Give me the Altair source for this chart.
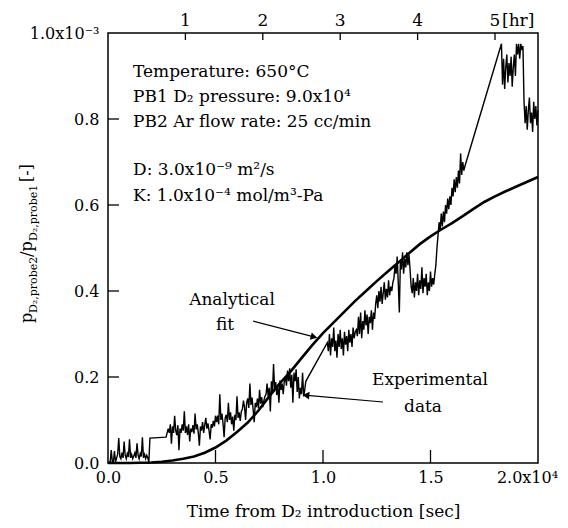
import altair as alt
import pandas as pd

FONT = "DejaVu Serif"
STEP = 0.005  # sampling interval in units of 1e4 s (50 s)

# ---- experimental data (x in 1e4 s, y in 1e-3), blocks of samples ----
blk_a_t0 = 0.00
blk_a = [0.0, 0.002, 0.001, 0.03, 0.004, 0.002, 0.028, 0.003,
         0.012, 0.02, 0.058, 0.015, 0.01, 0.024, 0.012, 0.05, 0.018, 0.01, 0.022, 0.014,
         0.055, 0.012, 0.02, 0.01, 0.016, 0.024, 0.012, 0.046, 0.018, 0.01, 0.022, 0.015,
         0.06, 0.012, 0.02, 0.01, 0.018, 0.012, 0.002]
bridge_x = [0.195, 0.27]
bridge_y = [0.058, 0.060]
blk_b_t0 = 0.28
blk_b = [0.08, 0.07, 0.09, 0.045, 0.085, 0.07, 0.11, 0.075, 0.065, 0.088,
         0.03, 0.08, 0.07, 0.09, 0.075, 0.12, 0.07, 0.085, 0.065, 0.09,
         0.05, 0.08, 0.072, 0.088, 0.068, 0.115, 0.078, 0.09, 0.07, 0.04,
         0.085, 0.075, 0.095, 0.07, 0.088, 0.105, 0.08, 0.092, 0.075, 0.055,
         0.09, 0.082, 0.098, 0.085, 0.11]
blk_c_t0 = 0.505
blk_c = [0.095, 0.11, 0.09, 0.16, 0.1, 0.115, 0.092, 0.06, 0.105, 0.112, 0.095, 0.14,
         0.1, 0.118, 0.09, 0.108, 0.075, 0.112, 0.1, 0.155, 0.105, 0.118, 0.098, 0.12]
blk_d_t0 = 0.625
blk_d = [0.125, 0.145, 0.13, 0.1, 0.14, 0.15, 0.128, 0.185, 0.135, 0.152, 0.125,
         0.095, 0.14, 0.13, 0.15, 0.127, 0.17, 0.138, 0.153, 0.13, 0.145, 0.155]
blk_e_t0 = 0.735
blk_e = [0.16, 0.185, 0.155, 0.175, 0.12, 0.19, 0.165, 0.23, 0.17,
         0.188, 0.158, 0.18, 0.14, 0.192, 0.17, 0.185, 0.16, 0.19]
blk_f_t0 = 0.825
blk_f = [0.2, 0.18, 0.215, 0.19, 0.22, 0.175, 0.205, 0.14, 0.21, 0.19,
         0.218, 0.165, 0.2, 0.15, 0.175, 0.16, 0.21, 0.155, 0.17, 0.19]
blk_g_t0 = 1.02
blk_g = [0.28, 0.26, 0.3, 0.25, 0.29, 0.27, 0.315, 0.26, 0.285, 0.245,
         0.3, 0.27, 0.31, 0.265, 0.29, 0.25, 0.305, 0.275, 0.295, 0.26,
         0.31, 0.28, 0.3, 0.27, 0.315, 0.29, 0.305]
blk_h_t0 = 1.155
blk_h = [0.31, 0.295, 0.34, 0.3, 0.35, 0.29, 0.33, 0.31, 0.355,
         0.32, 0.345, 0.3, 0.34, 0.325, 0.355, 0.31, 0.35, 0.335]
blk_i_t0 = 1.245
blk_i = [0.37, 0.39, 0.36, 0.4, 0.375, 0.41, 0.37, 0.395, 0.42,
         0.38, 0.405, 0.385, 0.425, 0.39, 0.41, 0.4, 0.42]
blk_j_t0 = 1.33
blk_j = [0.43, 0.46, 0.44, 0.48, 0.42, 0.35, 0.47, 0.45,
         0.49, 0.44, 0.475, 0.455, 0.49, 0.46, 0.485]
blk_k_t0 = 1.405
blk_k = [0.45, 0.41, 0.395, 0.43, 0.385, 0.42, 0.4, 0.44, 0.39, 0.425, 0.405, 0.455,
         0.395, 0.43, 0.41, 0.44, 0.39, 0.42, 0.4, 0.445, 0.41, 0.43, 0.415, 0.44]
blk_l_t0 = 1.525
blk_l = [0.46, 0.5, 0.53, 0.56, 0.54, 0.58, 0.55, 0.585, 0.56, 0.6, 0.58, 0.615, 0.59, 0.62,
         0.6, 0.64, 0.62, 0.66, 0.63, 0.665, 0.64, 0.68, 0.65, 0.72, 0.67, 0.7, 0.68, 0.69]
blk_m_t0 = 1.83
blk_m = [0.975, 0.88, 0.94, 0.87, 0.92, 0.95, 0.885, 0.93, 0.9, 0.945, 0.875,
         0.92, 0.95, 0.9, 0.975, 0.95, 0.975, 0.94, 0.975, 0.96, 0.97]
blk_n_t0 = 1.935
blk_n = [0.84, 0.79, 0.83, 0.775, 0.82, 0.85, 0.79, 0.815, 0.77, 0.84, 0.8, 0.83, 0.785, 0.82]

# ---- analytical fit ----
fit_x = [0.0, 0.10, 0.20, 0.25, 0.30, 0.35, 0.40, 0.45, 0.50, 0.55, 0.60, 0.65, 0.70,
         0.75, 0.80, 0.85, 0.90, 0.95, 1.00, 1.05, 1.10, 1.15, 1.20, 1.25, 1.30, 1.35,
         1.40, 1.45, 1.50, 1.55, 1.60, 1.65, 1.70, 1.75, 1.80, 1.85, 1.90, 1.95, 2.00]
fit_y = [0.0, 0.0, 0.001, 0.003, 0.006, 0.010, 0.015, 0.024, 0.036, 0.052, 0.072, 0.094, 0.122,
         0.155, 0.186, 0.213, 0.244, 0.274, 0.302, 0.327, 0.352, 0.377, 0.400, 0.423, 0.445, 0.466,
         0.488, 0.509, 0.527, 0.543, 0.558, 0.574, 0.591, 0.607, 0.620, 0.632, 0.643, 0.654, 0.665]

x_ticks = [0.5, 1.0, 1.5]
y_ticks = [0.2, 0.4, 0.6, 0.8]
hours = [1, 2, 3, 4, 5]
hour_labels = ["1", "2", "3", "4", "5"]

rows = []
def add_block(t0, vals):
    for i, v in enumerate(vals):
        rows.append((round(t0 + i * STEP, 4), v))

add_block(blk_a_t0, blk_a)
for bx, by in zip(bridge_x, bridge_y):
    rows.append((bx, by))
for t0, vals in [(blk_b_t0, blk_b), (blk_c_t0, blk_c), (blk_d_t0, blk_d), (blk_e_t0, blk_e),
                 (blk_f_t0, blk_f), (blk_g_t0, blk_g), (blk_h_t0, blk_h), (blk_i_t0, blk_i),
                 (blk_j_t0, blk_j), (blk_k_t0, blk_k), (blk_l_t0, blk_l), (blk_m_t0, blk_m),
                 (blk_n_t0, blk_n)]:
    add_block(t0, vals)
exp_df = pd.DataFrame(rows, columns=["x", "y"])
exp_df["order"] = range(len(exp_df))
fit_df = pd.DataFrame({"x": fit_x, "y": fit_y})
hour_df = pd.DataFrame({"x": [h * 0.36 for h in hours], "label": hour_labels})

LAB = 16
xs = alt.Scale(domain=[0, 2], nice=False, zero=False)
ys = alt.Scale(domain=[0, 1], nice=False, zero=False)
xaxis = alt.Axis(values=[0, 0.5, 1, 1.5, 2],
                 labelExpr="datum.value == 2 ? '2.0x10\u2074' : format(datum.value, '.1f')",
                 labelOffset={"condition": {"test": "datum.value == 2", "value": -11}, "value": 0},
                 ticks=False, domain=False, grid=False, labelFont=FONT, labelFontSize=LAB,
                 labelColor="black", labelPadding=6, labelFlush=False, labelOverlap=False,
                 title="Time from D\u2082 introduction [sec]", titleFont=FONT, titleFontSize=17,
                 titleFontWeight="normal", titleColor="black", titlePadding=18)
yaxis = alt.Axis(values=[0, 0.2, 0.4, 0.6, 0.8, 1.0],
                 labelExpr="datum.value == 1 ? '1.0x10\u207b\u00b3' : format(datum.value, '.1f')",
                 ticks=False, domain=False, grid=False, labelFont=FONT, labelFontSize=LAB,
                 labelColor="black", labelPadding=9, labelFlush=False, labelOverlap=False,
                 title=None)
X = alt.X("x:Q", scale=xs, axis=xaxis)
Y = alt.Y("y:Q", scale=ys, axis=yaxis)

exp_line = alt.Chart(exp_df).mark_line(color="black", strokeWidth=1.4).encode(
    x=X, y=Y, order="order:Q")
fit_line = alt.Chart(fit_df).mark_line(color="black", strokeWidth=2.6).encode(x=X, y=Y)

btick = alt.Chart(pd.DataFrame({"x": x_ticks})).mark_rule(color="black", strokeWidth=1.3).encode(
    x=X, y=alt.value(430), y2=alt.value(417))
ltick = alt.Chart(pd.DataFrame({"y": y_ticks})).mark_rule(color="black", strokeWidth=1.3).encode(
    y=Y, x=alt.value(0), x2=alt.value(11))
ttick = alt.Chart(hour_df).mark_rule(color="black", strokeWidth=1.3).encode(
    x=X, y=alt.value(0), y2=alt.value(7))
hlab = alt.Chart(hour_df).mark_text(font=FONT, fontSize=17, baseline="middle", color="black").encode(
    x=X, y=alt.value(-12), text="label:N")
hrlab = alt.Chart(pd.DataFrame({"x": [hours[-1] * 0.36]})).mark_text(
    text="[hr]", font=FONT, fontSize=17, baseline="middle", align="left", dx=7, color="black").encode(
    x=X, y=alt.value(-12))

dummy = pd.DataFrame({"d": [0]})

def txt(s, x, y, size=17, align="left", angle=0, baseline="middle"):
    kw = dict(text=s, font=FONT, fontSize=size, align=align, baseline=baseline, color="black")
    if angle:
        kw["angle"] = angle
    return alt.Chart(dummy).mark_text(**kw).encode(x=alt.value(x), y=alt.value(y))

ann = [
    txt("Temperature: 650\u00b0C", 25, 39),
    txt("PB1 D\u2082 pressure: 9.0x10\u2074", 25, 64),
    txt("PB2 Ar flow rate: 25 cc/min", 25, 89),
    txt("D: 3.0x10\u207b\u2079 m\u00b2/s", 25, 137),
    txt("K: 1.0x10\u207b\u2074 mol/m\u00b3-Pa", 25, 163),
    txt("Analytical", 124, 267, align="center"),
    txt("fit", 117, 292, align="center"),
    txt("Experimental", 322, 347, align="center"),
    txt("data", 315, 374, align="center"),
]

# y-axis title pieces (rotated)
ytitle = [
    txt("p", -76, 290, size=16, angle=270, baseline="alphabetic"),
    txt("D\u2082,probe2", -71, 280, size=11, angle=270, baseline="alphabetic"),
    txt("/p", -76, 224, size=16, angle=270, baseline="alphabetic"),
    txt("D\u2082,probe1", -71, 208, size=11, angle=270, baseline="alphabetic"),
    txt("[-]", -76, 149, size=16, angle=270, baseline="alphabetic"),
]

arrow1 = alt.Chart(dummy).mark_rule(color="black", strokeWidth=1.2).encode(
    x=alt.value(145), y=alt.value(288), x2=alt.value(205), y2=alt.value(303.7))
head1 = alt.Chart(dummy).mark_point(shape="triangle-right", filled=True, size=60, angle=15,
                                    color="black", opacity=1).encode(x=alt.value(206), y=alt.value(304))
arrow2 = alt.Chart(dummy).mark_rule(color="black", strokeWidth=1.2).encode(
    x=alt.value(275), y=alt.value(369), x2=alt.value(199), y2=alt.value(362.4))
head2 = alt.Chart(dummy).mark_point(shape="triangle-left", filled=True, size=60, angle=5,
                                    color="black", opacity=1).encode(x=alt.value(198), y=alt.value(362.3))

chart = alt.layer(exp_line, fit_line, btick, ltick, ttick, hlab, hrlab,
                  arrow1, head1, arrow2, head2, *ann, *ytitle).properties(
    width=430, height=430,
    autosize=alt.AutoSizeParams(type="none"),
    padding={"left": 100, "top": 25, "right": 22, "bottom": 57},
    background="white",
).configure(font=FONT).configure_view(stroke="black", strokeWidth=1.5)

chart.save("out.html", embed_options={"renderer": "svg", "actions": False})
